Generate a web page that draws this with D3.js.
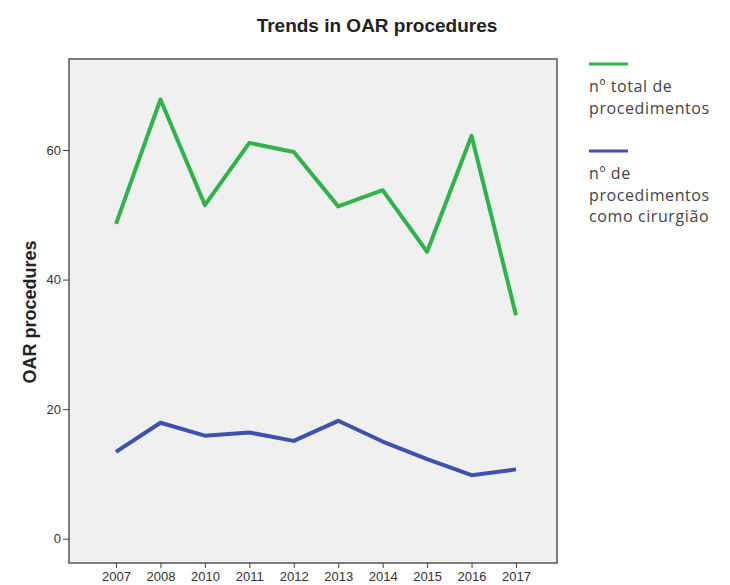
<html>
<head>
<script src="https://cdnjs.cloudflare.com/ajax/libs/d3/7.8.5/d3.min.js"></script>
<style>
body { margin: 0; background: #fff; }
svg { display: block; }
.tick text { font-family: "Liberation Sans", Arial, sans-serif; font-size: 13px; fill: #333; }
</style>
</head>
<body>
<svg id="canvas" width="730" height="585"></svg>
<script>
var years = ['2007', '2008', '2010', '2011', '2012', '2013', '2014', '2015', '2016', '2017'];
var totalProc = [48.6, 67.8, 51.5, 61.1, 59.7, 51.3, 53.8, 44.3, 62.2, 34.5];
var surgeonProc = [13.4, 17.9, 15.9, 16.4, 15.1, 18.2, 15.0, 12.3, 9.8, 10.7];
var yTicks = [0, 20, 40, 60];
var legendItems = [
  { color: '#2fb34a', lines: ['n\u00ba total de', 'procedimentos'] },
  { color: '#3f51b0', lines: ['n\u00ba de', 'procedimentos', 'como cirurgi\u00e3o'] }
];

var svg = d3.select('#canvas');
var box = { left: 69, top: 59, right: 557, bottom: 563 };

// first/last year sit a bit off the box edges
var x = d3.scalePoint().domain(years).range([box.left + 47, box.right - 41]);
var y = d3.scaleLinear().domain([-3.75, 74.05]).range([box.bottom, box.top]);

// plot background
svg.append('rect')
  .attr('x', box.left).attr('y', box.top)
  .attr('width', box.right - box.left).attr('height', box.bottom - box.top)
  .attr('fill', '#f0f0f0')
  .attr('stroke', '#555').attr('stroke-width', 1.5);

svg.append('text')
  .attr('x', 377).attr('y', 32)
  .attr('text-anchor', 'middle')
  .style('font-family', '"Liberation Sans", Arial, sans-serif')
  .style('font-weight', 'bold').style('font-size', '19px').style('fill', '#222')
  .text('Trends in OAR procedures');

var xAxis = svg.append('g')
  .attr('transform', 'translate(0,' + box.bottom + ')')
  .call(d3.axisBottom(x).tickSize(5).tickPadding(4));
xAxis.select('.domain').remove();
xAxis.selectAll('line').attr('stroke', '#444');

var yAxis = svg.append('g')
  .attr('transform', 'translate(' + box.left + ',0)')
  .call(d3.axisLeft(y).tickValues(yTicks).tickSize(6).tickPadding(2));
yAxis.select('.domain').remove();
yAxis.selectAll('line').attr('stroke', '#444');

svg.append('text')
  .attr('transform', 'translate(36,312) rotate(-90)')
  .attr('text-anchor', 'middle')
  .style('font-family', '"Liberation Sans", Arial, sans-serif')
  .style('font-weight', 'bold').style('font-size', '18px').style('fill', '#222')
  .text('OAR procedures');

var line = d3.line()
  .x(function(d, i) { return x(years[i]); })
  .y(function(d) { return y(d); });

[[totalProc, legendItems[0].color], [surgeonProc, legendItems[1].color]].forEach(function(s) {
  svg.append('path')
    .datum(s[0])
    .attr('d', line)
    .attr('fill', 'none')
    .attr('stroke', s[1])
    .attr('stroke-width', 4)
    .attr('stroke-linejoin', 'round');
});

// legend
var legY = [64, 151];
legendItems.forEach(function(item, k) {
  var g = svg.append('g').attr('transform', 'translate(589,' + legY[k] + ')');
  g.append('line').attr('x1', 0).attr('x2', 39).attr('y1', 0).attr('y2', 0)
    .attr('stroke', item.color).attr('stroke-width', 3);
  item.lines.forEach(function(t, j) {
    g.append('text')
      .attr('x', 0).attr('y', 28 + j * 21.5)
      .style('font-family', '"Open Sans", sans-serif')
      .style('font-size', '16px').style('letter-spacing', '0.6px').style('fill', '#444')
      .text(t);
  });
});
</script>
</body>
</html>
